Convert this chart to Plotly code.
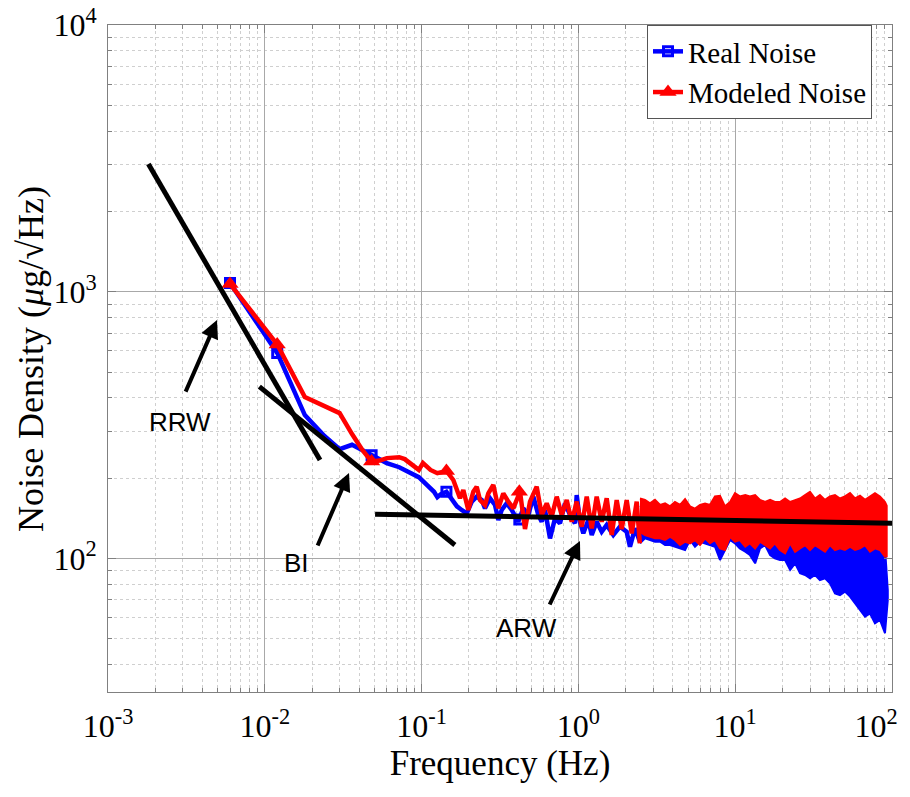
import plotly.graph_objects as go

# ---------------- data ----------------
# Real noise (blue): low-frequency / transition part
real_freq = [0.006, 0.012, 0.018, 0.024, 0.030, 0.036, 0.042, 0.048, 0.054, 0.060,
             0.072, 0.084, 0.096, 0.108, 0.120, 0.126, 0.132, 0.144, 0.156, 0.168,
             0.180, 0.194, 0.209, 0.2246, 0.2418, 0.2537, 0.2731, 0.2939, 0.3085, 0.3242,
             0.3489, 0.3755, 0.4137, 0.4451, 0.4792, 0.5158, 0.5551, 0.5834, 0.6124, 0.6591,
             0.7094, 0.7634, 0.8215, 0.8842, 0.9513, 0.9754, 1.024, 1.075, 1.157, 1.216,
             1.308, 1.408, 1.515, 1.670, 1.842, 2.032, 2.133, 2.296, 2.466]
real_psd = [1080, 590, 345, 288, 257, 267, 255, 244, 236, 228,
            220, 211, 202, 189, 178, 170, 174, 178, 166, 157,
            152.1, 147.8, 163.5, 170.6, 165.8, 154.3, 168.3, 158.9, 139.5, 152.1,
            161.2, 152.1, 137.5, 154.3, 145.7, 170.6, 145.7, 137.5, 152.1, 119.1,
            141.6, 135.6, 161.2, 145.7, 135.6, 173.1, 137.5, 124.4, 139.5, 122.6,
            137.5, 126.1, 133.7, 122.6, 131.7, 126.1, 110.8, 129.9, 115.7]

# Modeled noise (red): low-frequency / transition part
model_freq = [0.006, 0.012, 0.018, 0.024, 0.030, 0.036, 0.042, 0.048, 0.054, 0.060,
              0.072, 0.078, 0.084, 0.096, 0.102, 0.114, 0.126, 0.144, 0.1593, 0.1675,
              0.1758, 0.1845, 0.1986, 0.2137, 0.2246, 0.2357, 0.2537, 0.2664, 0.2867, 0.3085,
              0.3319, 0.3573, 0.3845, 0.4242, 0.4564, 0.4913, 0.5420, 0.5834, 0.6280, 0.6757,
              0.7271, 0.7825, 0.8424, 0.9064, 0.9754, 1.050, 1.130, 1.216, 1.308, 1.408,
              1.515, 1.631, 1.755, 1.889, 2.032, 2.187, 2.354, 2.466]
model_psd = [1070, 635, 403, 373, 351, 293, 255, 231, 233, 238,
             240, 236, 228, 215, 228, 215, 209, 213, 197.1, 183.4,
             168.3, 180.8, 152.1, 178.1, 186.0, 165.8, 158.9, 175.6, 188.7, 154.3,
             175.6, 163.5, 154.3, 178.1, 129.1, 163.5, 186.0, 145.7, 161.2, 143.6,
             170.6, 145.7, 165.8, 137.5, 163.5, 131.7, 170.6, 129.9, 170.6, 137.5,
             168.3, 122.6, 165.8, 129.1, 165.8, 124.4, 163.5, 114.1]

# Dense high-frequency part: upper / lower envelopes of the noise band
real_band_freq = [2.47, 2.66, 2.86, 3.08, 3.32, 3.57, 3.84, 4.13, 4.45, 4.79,
                  5.15, 5.54, 5.97, 6.42, 6.91, 7.43, 8.00, 8.61, 9.27, 9.97,
                  10.7, 11.6, 12.4, 13.4, 14.4, 15.5, 16.7, 17.9, 19.3, 20.8,
                  22.4, 24.1, 25.9, 27.9, 30.0, 32.3, 34.7, 37.4, 40.2, 43.3,
                  46.6, 50.1, 54.0, 58.1, 62.5, 67.3, 72.4, 77.9, 83.8, 90.2, 94.0]
real_band_hi = [158, 155, 152, 156, 150, 152, 148, 154, 150, 157,
                148, 146, 150, 152, 150, 160, 162, 148, 154, 164,
                160, 162, 160, 162, 156, 154, 156, 154, 152, 158,
                152, 154, 150, 155, 158, 150, 152, 146, 148, 148,
                144, 142, 140, 136, 132, 128, 124, 120, 116, 110, 76]
real_band_lo = [114.1, 119.1, 117.4, 115.7, 115.7, 112.4, 112.4, 110.8, 109.2, 107.7,
                117.4, 110.8, 115.7, 114.1, 112.4, 110.8, 98.8, 107.7, 117.4, 114.1,
                109.2, 106.1, 103.1, 96.0, 109.2, 112.4, 103.1, 100.2, 98.8, 98.8,
                90.7, 96.0, 88.1, 86.8, 84.3, 86.8, 83.1, 84.3, 80.8, 74.1,
                73.0, 75.2, 72.0, 68.0, 64.2, 60.6, 62.3, 57.2, 58.9, 52.5, 70]

model_band_freq = [2.47, 2.66, 2.86, 3.08, 3.32, 3.57, 3.84, 4.13, 4.45, 4.79,
                   5.15, 5.54, 5.97, 6.42, 6.91, 7.43, 8.00, 8.61, 9.27, 9.97,
                   10.7, 11.6, 12.4, 13.4, 14.4, 15.5, 16.7, 17.9, 19.3, 20.8,
                   22.4, 24.1, 25.9, 27.9, 30.0, 32.3, 34.7, 37.4, 40.2, 43.3,
                   46.6, 50.1, 54.0, 58.1, 62.5, 67.3, 72.4, 77.9, 83.8, 90.2, 92.5]
model_band_hi = [168, 166, 161, 166, 159, 161, 157, 163, 159, 167,
                 157, 154, 159, 161, 159, 171, 172, 157, 163, 176,
                 171, 173, 171, 173, 166, 163, 166, 163, 163, 168,
                 163, 166, 168, 173, 178, 168, 173, 166, 171, 173,
                 168, 171, 176, 168, 172, 166, 171, 176, 171, 163, 158]
model_band_lo = [126, 122.6, 120.8, 119.1, 119.1, 117.4, 120.8, 117.4, 112.4, 115.7,
                 114.1, 117.4, 112.4, 119.1, 114.1, 117.4, 109.2, 107.7, 120.8, 115.7,
                 117.4, 110.8, 114.1, 109.2, 115.7, 112.4, 109.2, 114.1, 107.7, 104.6,
                 114.1, 106.1, 109.2, 112.4, 107.7, 112.4, 109.2, 106.1, 112.4, 107.7,
                 109.2, 107.7, 110.8, 107.7, 109.2, 112.4, 106.1, 109.2, 107.7, 101.7, 102]

# Marker positions
real_marker_freq = [0.006, 0.012, 0.048, 0.144, 0.42]
real_marker_psd = [1080, 590, 244, 178, 140]
model_marker_freq = [0.006, 0.012, 0.048, 0.144, 0.42]
model_marker_psd = [1070, 635, 231, 213, 178]

# Fitted noise-term lines
rrw_freq = [0.00181, 0.0225]
rrw_psd = [3013, 234]
bi_freq = [0.00923, 0.163]
bi_psd = [441, 112.5]
arw_freq = [0.0505, 109]
arw_psd = [146.6, 135.6]

# Ticks
x_tick_vals = [0.001, 0.01, 0.1, 1, 10, 100]
x_tick_exp = ["-3", "-2", "-1", "0", "1", "2"]
y_tick_vals = [100, 1000, 10000]
y_tick_exp = ["2", "3", "4"]

SUP = "<sup>{}</sup>"
x_tick_text = ["10" + SUP.format(e) for e in x_tick_exp]
x_tick_text[-1] += "&nbsp;&nbsp;&nbsp;&nbsp;"
y_tick_text = ["10" + SUP.format(e) for e in y_tick_exp]

# ---------------- figure ----------------
BLUE = "#0000ff"
RED = "#ff0000"
SERIF = "Liberation Serif, Times New Roman, serif"
SANS = "Liberation Sans, Arial, sans-serif"

fig = go.Figure()

# Real noise
fig.add_trace(go.Scatter(
    x=real_band_freq + real_band_freq[::-1],
    y=real_band_hi + real_band_lo[::-1],
    fill="toself", fillcolor=BLUE, mode="lines",
    line=dict(color=BLUE, width=2), showlegend=False, hoverinfo="skip"))
fig.add_trace(go.Scatter(x=real_freq, y=real_psd, mode="lines",
                         line=dict(color=BLUE, width=4.5), showlegend=False))
fig.add_trace(go.Scatter(x=real_marker_freq, y=real_marker_psd, mode="markers",
                         marker=dict(symbol="square-open", size=9, color=BLUE,
                                     line=dict(width=3, color=BLUE)),
                         showlegend=False))

# Modeled noise
fig.add_trace(go.Scatter(
    x=model_band_freq + model_band_freq[::-1],
    y=model_band_hi + model_band_lo[::-1],
    fill="toself", fillcolor=RED, mode="lines",
    line=dict(color=RED, width=2), showlegend=False, hoverinfo="skip"))
fig.add_trace(go.Scatter(x=model_freq, y=model_psd, mode="lines",
                         line=dict(color=RED, width=4.5), showlegend=False))
fig.add_trace(go.Scatter(x=model_marker_freq, y=model_marker_psd, mode="markers",
                         marker=dict(symbol="triangle-up", size=15, color=RED),
                         showlegend=False))

# Fit lines
for fx, fy in [(rrw_freq, rrw_psd), (bi_freq, bi_psd), (arw_freq, arw_psd)]:
    fig.add_trace(go.Scatter(x=fx, y=fy, mode="lines",
                             line=dict(color="black", width=5), showlegend=False))

# Legend entries
fig.add_trace(go.Scatter(x=[None], y=[None], mode="lines+markers", name="Real Noise",
                         line=dict(color=BLUE, width=4.5),
                         marker=dict(symbol="square-open", size=9, color=BLUE,
                                     line=dict(width=3, color=BLUE))))
fig.add_trace(go.Scatter(x=[None], y=[None], mode="lines+markers", name="Modeled Noise",
                         line=dict(color=RED, width=4.5),
                         marker=dict(symbol="triangle-up", size=15, color=RED)))

# Arrows (head at data position, tail offset in px) and labels
arrows = [(-2.305, 2.894, -32, 73), (-1.463, 2.321, -32, 74), (0.010, 2.066, -31, 65)]
for hx, hy, ax, ay in arrows:
    fig.add_annotation(x=hx, y=hy, xref="x", yref="y", text="", showarrow=True,
                       ax=ax, ay=ay, arrowhead=2, arrowsize=0.9, arrowwidth=4,
                       arrowcolor="black")
labels = [("RRW", -2.541, 2.512), ("BI", -1.801, 1.9835), ("ARW", -0.328, 1.740)]
for txt, lx, ly in labels:
    fig.add_annotation(x=lx, y=ly, xref="x", yref="y", text=txt, showarrow=False,
                       font=dict(family=SANS, size=26, color="black"))

# y-axis title (placed as a rotated annotation so it sits where the reference has it)
fig.add_annotation(x=-0.099, y=0.5, xref="paper", yref="paper",
                   text="Noise Density (<i>μ</i>g/√Hz)", textangle=-90,
                   showarrow=False, xanchor="center", yanchor="middle",
                   font=dict(family=SERIF, size=36, color="black"))

axis_common = dict(
    type="log", showline=True, linecolor="#808080", linewidth=1, mirror="allticks",
    ticks="inside", ticklen=8, tickcolor="#808080", automargin=False,
    ticklabeloverflow="allow",
    showgrid=True, gridcolor="#a8a8a8", gridwidth=1,
    tickfont=dict(family=SERIF, size=32, color="black"),
    zeroline=False,
    minor=dict(dtick="D1", ticks="inside", ticklen=4, tickcolor="#808080",
               showgrid=True, gridcolor="#cfcfcf", griddash="dot", gridwidth=1),
)

fig.update_xaxes(range=[-3, 2], tickmode="array", tickvals=x_tick_vals,
                 ticktext=x_tick_text, ticklabelstandoff=6,
                 title=dict(text="Frequency (Hz)",
                            font=dict(family=SERIF, size=35, color="black"),
                            standoff=2),
                 **axis_common)
fig.update_yaxes(range=[1.5, 4], tickmode="array", tickvals=y_tick_vals,
                 ticktext=y_tick_text, ticklabelstandoff=4,
                 **axis_common)

# The page body adds an 8 px offset; size and margins compensate so the
# plotting area lands at x 108..892, y 25..692 in the 910x797 window.
fig.update_layout(
    width=902, height=789,
    margin=dict(l=100, r=18, t=17, b=105),
    paper_bgcolor="white", plot_bgcolor="white",
    font=dict(family=SERIF, color="black"),
    legend=dict(x=0.9745, y=1.0, xanchor="right", yanchor="top",
                bgcolor="white", bordercolor="#555555", borderwidth=1,
                font=dict(family=SERIF, size=29, color="black"),
                tracegroupgap=0, itemwidth=30),
    showlegend=True,
)

fig.write_html("out.html")
